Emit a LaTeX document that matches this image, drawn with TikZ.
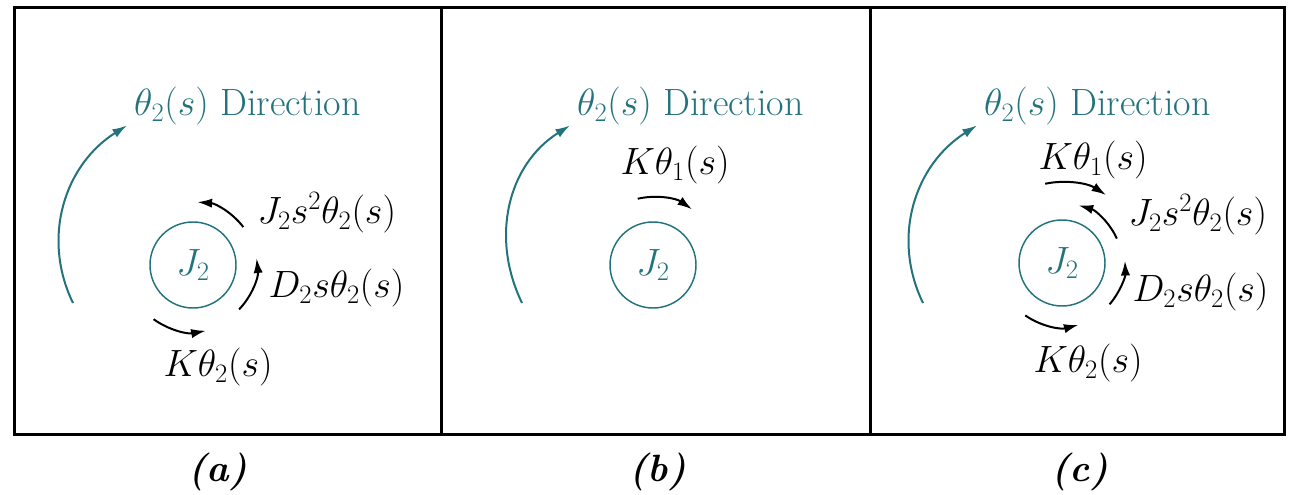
\RequirePackage{fix-cm}
\documentclass[tikz,border=0pt]{standalone}
\usetikzlibrary{arrows.meta}

\definecolor{dirteal}{RGB}{35,115,125}
\tikzset{every picture/.style={line width=0.75pt}}

\begin{document}
\begin{tikzpicture}[x=0.75pt,y=0.75pt,yscale=-1,xscale=1,
    txt/.style={font=\fontsize{28.5}{34}\selectfont},
    inertia/.style={draw=dirteal, circle, minimum size=64.5pt, inner sep=0pt, text=dirteal, line width=1.1pt, txt},
    dirtext/.style={text=dirteal, anchor=west, inner xsep=5pt, inner ysep=0pt, txt},
    dirarrow/.style={draw=dirteal, line width=1.5pt, -{Latex[length=11pt,width=7pt]}},
    torque/.style={line width=1.5pt, -{Latex[length=11pt,width=7pt]}},
    lbl/.style={anchor=west, inner sep=0.75pt, txt},
    caption/.style={font=\fontsize{28.5}{34}\selectfont\bfseries\itshape}]
  \useasboundingbox (0,0) rectangle (1297,495);

  % Frames
  \draw [line width=2.25pt] (14,8) rectangle (1284,435);
  \draw [line width=2.25pt] (441,8) -- (441,435);
  \draw [line width=2.25pt] (870,8) -- (870,435);

  % Panel (a)
  \node [inertia] (Ja) at (193,265) {$J_2$};
  \node [dirtext] (Da) at (127,106) {$\theta_2(s)$ Direction};
  \coordinate (a0) at (73,303);
  \draw [dirarrow] (a0) .. controls +(-32,-66) and +(-62,39) .. (Da.south west);
  \draw [torque] (Ja.center) ++(-37:63) arc [start angle=-37, end angle=-86, radius=63];
  \draw [torque] (Ja.center) ++(44:64) arc [start angle=44, end angle=-6, radius=64];
  \draw [torque] (Ja.center) ++(126:67) arc [start angle=126, end angle=79, radius=67];
  \node [lbl] (Jsa) at (256,213) {$J_2s^2\theta_2(s)$};
  \node [lbl] (Dsa) at (267,288) {$D_2s\theta_2(s)$};
  \node [lbl] (Kta) at (162,367) {$K\theta_2(s)$};
  \node [caption] (capa) at (218,472) {(a)};

  % Panel (b)
  \node [inertia] (Jb) at (653,265) {$J_2$};
  \node [dirtext] (Db) at (570,106) {$\theta_2(s)$ Direction};
  \coordinate (b0) at (522,303);
  \draw [dirarrow] (b0) .. controls +(-32,-66) and +(-62,39) .. (Db.south west);
  \draw [torque] (Jb.center) ++(-103:68) arc [start angle=-103, end angle=-55, radius=68];
  \node [lbl] (Kob) at (619,165) {$K\theta_1(s)$};
  \node [caption] (capb) at (658,472) {(b)};

  % Panel (c)
  \node [inertia] (Jc) at (1062,263) {$J_2$};
  \node [dirtext] (Dc) at (977,106) {$\theta_2(s)$ Direction};
  \coordinate (c0) at (923,303);
  \draw [dirarrow] (c0) .. controls +(-32,-66) and +(-62,39) .. (Dc.south west);
  \draw [torque] (Jc.center) ++(-102:81) arc [start angle=-102, end angle=-57, radius=81];
  \draw [torque] (Jc.center) ++(-24:60) arc [start angle=-24, end angle=-74, radius=60];
  \draw [torque] (Jc.center) ++(41:63) arc [start angle=41, end angle=-2, radius=63];
  \draw [torque] (Jc.center) ++(125:64) arc [start angle=125, end angle=75, radius=64];
  \node [lbl] (Koc) at (1037,160) {$K\theta_1(s)$};
  \node [lbl] (Jsc) at (1127,215) {$J_2s^2\theta_2(s)$};
  \node [lbl] (Dsc) at (1131,292) {$D_2s\theta_2(s)$};
  \node [lbl] (Ktc) at (1032,363) {$K\theta_2(s)$};
  \node [caption] (capc) at (1080,472) {(c)};
\end{tikzpicture}
\end{document}
